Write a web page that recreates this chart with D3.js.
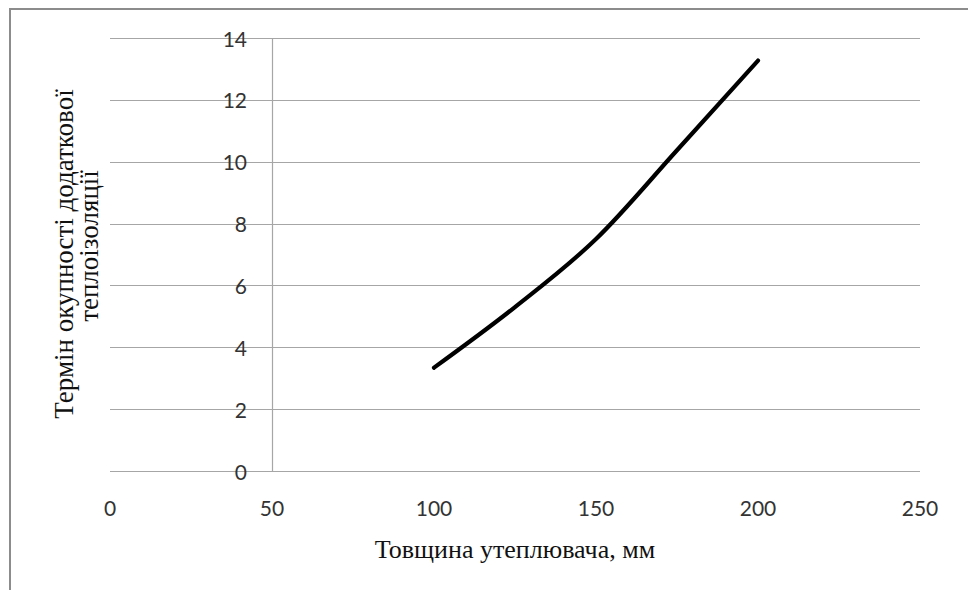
<!DOCTYPE html>
<html>
<head>
<meta charset="utf-8">
<script src="https://cdn.jsdelivr.net/npm/d3@7"></script>
<style>
  html, body { margin: 0; padding: 0; background: #fff; }
  svg { display: block; }
</style>
</head>
<body>
<svg id="chart" width="968" height="590"></svg>
<script>
// Data
const thickness = [100, 125, 150, 175, 200];
const payback = [3.34, 5.3, 7.5, 10.37, 13.27];
const xTicks = [0, 50, 100, 150, 200, 250];
const yTicks = [0, 2, 4, 6, 8, 10, 12, 14];
const xTitle = "Товщина утеплювача, мм";
const yTitleLines = ["Термін окупності додаткової", "теплоізоляції"];

const svg = d3.select("#chart");
const x = d3.scaleLinear().domain([0, 250]).range([110, 920]);
const y = d3.scaleLinear().domain([0, 14]).range([471, 38]);

// chart border
svg.append("rect")
  .attr("x", 10).attr("y", 9).attr("width", 1000).attr("height", 1000)
  .attr("fill", "none").attr("stroke", "#8c8c8c").attr("stroke-width", 2);

// gridlines
svg.append("g").selectAll("line").data(yTicks).join("line")
  .attr("x1", x(0)).attr("x2", x(250))
  .attr("y1", d => Math.round(y(d)) + 0.5).attr("y2", d => Math.round(y(d)) + 0.5)
  .attr("stroke", "#a6a6a6").attr("stroke-width", 1.2);

// y axis line at x=50
svg.append("line")
  .attr("x1", Math.round(x(50)) + 0.5).attr("x2", Math.round(x(50)) + 0.5)
  .attr("y1", y(14)).attr("y2", y(0))
  .attr("stroke", "#a6a6a6").attr("stroke-width", 1.2);

// y tick labels
svg.append("g").selectAll("text").data(yTicks).join("text")
  .attr("x", 247).attr("y", d => y(d))
  .attr("text-anchor", "end").attr("dominant-baseline", "central")
  .attr("font-family", "Lato, 'Open Sans', sans-serif").attr("font-size", 21)
  .attr("fill", "#333")
  .text(d => d);

// x tick labels
svg.append("g").selectAll("text").data(xTicks).join("text")
  .attr("x", d => x(d)).attr("y", 507)
  .attr("text-anchor", "middle").attr("dominant-baseline", "central")
  .attr("font-family", "Lato, 'Open Sans', sans-serif").attr("font-size", 21)
  .attr("fill", "#333")
  .text(d => d);

// axis titles
svg.append("text")
  .attr("x", 515).attr("y", 549)
  .attr("text-anchor", "middle").attr("dominant-baseline", "central")
  .attr("font-family", "'Liberation Serif', 'Times New Roman', serif").attr("font-size", 26)
  .attr("fill", "#111")
  .text(xTitle);

svg.append("g").selectAll("text").data(yTitleLines).join("text")
  .attr("transform", (d, i) => `translate(${i === 0 ? 64 : 89},${i === 0 ? 254 : 246}) rotate(-90)`)
  .attr("text-anchor", "middle").attr("dominant-baseline", "central")
  .attr("font-family", "'Liberation Serif', 'Times New Roman', serif").attr("font-size", 27)
  .attr("fill", "#111")
  .text(d => d);

// line
const line = d3.line().x((d, i) => x(thickness[i])).y(d => y(d)).curve(d3.curveMonotoneX);
svg.append("path")
  .datum(payback)
  .attr("d", line)
  .attr("fill", "none").attr("stroke", "#000").attr("stroke-width", 4.2)
  .attr("stroke-linecap", "round").attr("stroke-linejoin", "round");
</script>
</body>
</html>
